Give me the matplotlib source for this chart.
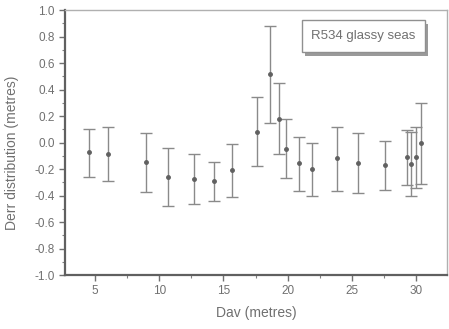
import matplotlib
matplotlib.use("Agg")
import matplotlib.pyplot as plt
from matplotlib.patches import Rectangle
from matplotlib.ticker import MultipleLocator

plt.rcParams['font.family'] = ['Liberation Sans', 'DejaVu Sans']

dav = [4.5, 6.0, 9.0, 10.7, 12.7, 14.25, 15.7, 17.6, 18.6, 19.3, 19.9, 20.9, 21.9, 23.8, 25.5, 27.6, 29.3, 29.6, 30.0, 30.4]
derr = [-0.074, -0.087, -0.147, -0.258, -0.278, -0.29, -0.21, 0.077, 0.517, 0.18, -0.049, -0.157, -0.2, -0.12, -0.157, -0.17, -0.112, -0.162, -0.107, -0.006]
upper = [0.10, 0.115, 0.074, -0.044, -0.089, -0.15, -0.009, 0.34, 0.88, 0.45, 0.175, 0.044, 0.0, 0.115, 0.069, 0.011, 0.094, 0.082, 0.12, 0.30]
lower = [-0.26, -0.29, -0.37, -0.477, -0.466, -0.44, -0.41, -0.18, 0.145, -0.09, -0.266, -0.366, -0.404, -0.364, -0.384, -0.358, -0.32, -0.40, -0.34, -0.31]
ytick_vals = [-1.0, -0.8, -0.6, -0.4, -0.2, 0.0, 0.2, 0.4, 0.6, 0.8, 1.0]

yerr = [[d - l for d, l in zip(derr, lower)], [u - d for d, u in zip(derr, upper)]]

fig = plt.figure(figsize=(4.49, 3.29), dpi=100)
ax = fig.add_axes([0.145, 0.164, 0.8505, 0.8056])

ax.errorbar(dav, derr, yerr=yerr, fmt='o', ms=2.5, color='#606060', ecolor='#8a8a8a',
            elinewidth=1.0, capsize=4, capthick=1.0)

ax.set_xlim(2.67, 32.4)
ax.set_ylim(-1.0, 1.0)
ax.xaxis.set_major_locator(MultipleLocator(5))
ax.xaxis.set_minor_locator(MultipleLocator(2.5))
ax.yaxis.set_minor_locator(MultipleLocator(0.1))
ax.set_yticks(ytick_vals)
ax.set_yticklabels([f"{v:.1f}" for v in ytick_vals])

for s in ['left', 'bottom']:
    ax.spines[s].set_color('#606060')
    ax.spines[s].set_linewidth(1.6)
for s in ['top', 'right']:
    ax.spines[s].set_color('#b0b0b0')
    ax.spines[s].set_linewidth(1.0)

ax.tick_params(which='major', direction='out', length=4, width=1.0, color='#707070',
               labelsize=8.5, labelcolor='#707070')
ax.tick_params(which='minor', direction='out', length=2.5, width=0.8, color='#808080')

ax.set_xlabel('Dav (metres)', fontsize=10, color='#707070', labelpad=6)
ax.set_ylabel('Derr distribution (metres)', fontsize=10, color='#707070')
ax.yaxis.set_label_coords(-0.12, 0.46)

# annotation box with drop shadow
bx0, by0, bw, bh = 0.620, 0.842, 0.322, 0.120
ax.add_patch(Rectangle((bx0 + 0.009, by0 - 0.015), bw, bh, transform=ax.transAxes,
                       fc='#9a9a9a', ec='none', zorder=4))
ax.add_patch(Rectangle((bx0, by0), bw, bh, transform=ax.transAxes,
                       fc='white', ec='#909090', lw=1.0, zorder=5))
ax.text(bx0 + bw / 2, by0 + bh / 2, 'R534 glassy seas', transform=ax.transAxes,
        ha='center', va='center', fontsize=9.5, color='#707070', zorder=6)

fig.savefig('out.png', dpi=100)
